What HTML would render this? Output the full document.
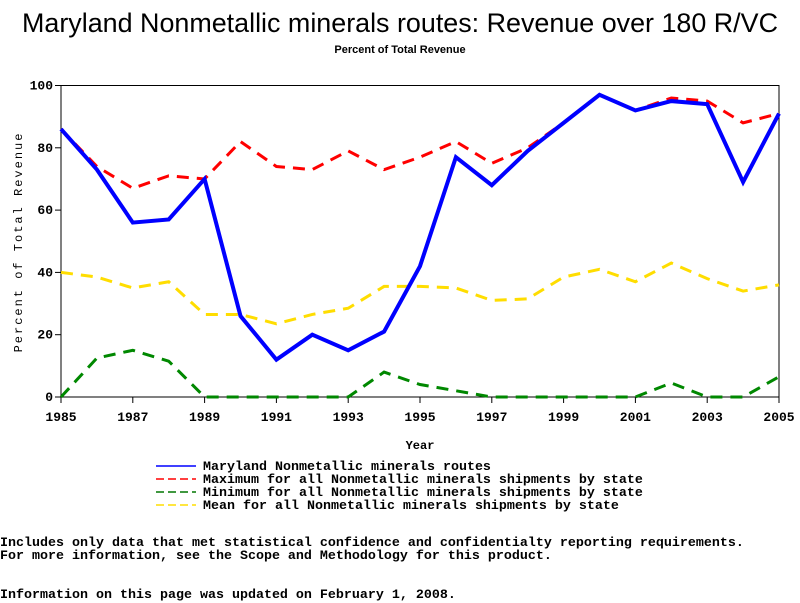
<!DOCTYPE html>
<html><head><meta charset="utf-8"><style>
body{margin:0;background:#fff;width:800px;height:600px;overflow:hidden;position:relative;font-family:"Liberation Sans",sans-serif}
.mono{font-family:"Liberation Mono",monospace;font-size:13.33px;position:absolute;white-space:pre;color:#000;font-weight:bold;line-height:13px}
</style></head><body>
<svg width="800" height="600" style="position:absolute;left:0;top:0">
<text x="22" y="32" font-size="27" textLength="756" lengthAdjust="spacingAndGlyphs" font-family="Liberation Sans, sans-serif">Maryland Nonmetallic minerals routes: Revenue over 180 R/VC</text>
<text x="400" y="53" text-anchor="middle" font-size="11" font-weight="bold" font-family="Liberation Sans, sans-serif">Percent of Total Revenue</text>
<rect x="61" y="85.5" width="718" height="311.5" fill="none" stroke="#000"/>
<g id="axes"></g>
<g id="series"></g>
<text x="420" y="449" text-anchor="middle" font-size="12" font-weight="bold" font-family="Liberation Mono, monospace">Year</text>
<text transform="translate(22,242) rotate(-90)" text-anchor="middle" font-size="12" letter-spacing="2" font-family="Liberation Mono, monospace">Percent of Total Revenue</text>
<line x1="156" y1="466" x2="196" y2="466" stroke="#00f" stroke-width="1.5"/>
<line x1="156" y1="479" x2="196" y2="479" stroke="#f00" stroke-width="1.5" stroke-dasharray="8,4"/>
<line x1="156" y1="492" x2="196" y2="492" stroke="#070" stroke-width="1.5" stroke-dasharray="8,4"/>
<line x1="156" y1="505" x2="196" y2="505" stroke="#fd0" stroke-width="1.5" stroke-dasharray="8,4"/>
</svg>
<div class="mono" style="left:203px;top:461px">Maryland Nonmetallic minerals routes</div>
<div class="mono" style="left:203px;top:474px">Maximum for all Nonmetallic minerals shipments by state</div>
<div class="mono" style="left:203px;top:487px">Minimum for all Nonmetallic minerals shipments by state</div>
<div class="mono" style="left:203px;top:500px">Mean for all Nonmetallic minerals shipments by state</div>
<div class="mono" style="left:0;top:537px">Includes only data that met statistical confidence and confidentialty reporting requirements.</div>
<div class="mono" style="left:0;top:550px">For more information, see the Scope and Methodology for this product.</div>
<div class="mono" style="left:0;top:589px">Information on this page was updated on February 1, 2008.</div>
<script>
const years=[1985,1986,1987,1988,1989,1990,1991,1992,1993,1994,1995,1996,1997,1998,1999,2000,2001,2002,2003,2004,2005];
const marylandVals=[86,73,56,57,70,26,12,20,15,21,42,77,68,79,88,97,92,95,94,69,91];
const maxVals=[86,74,67,71,70,82,74,73,79,73,77,82,75,80,88,97,92,96,95,88,91];
const minVals=[0,12.5,15,11.5,0,0,0,0,0,8,4,2,0,0,0,0,0,4.5,0,0,6.5];
const meanVals=[40,38.5,35,37,26.5,26.5,23.5,26.5,28.5,35.5,35.5,35,31,31.5,38.5,41,37,43,38,34,36];
const xTicks=[1985,1987,1989,1991,1993,1995,1997,1999,2001,2003,2005];
const yTicks=[0,20,40,60,80,100];
const NS="http://www.w3.org/2000/svg";
const X=v=>61+(v-1985)/20*718, Y=v=>397-v/100*311.5;
const ax=document.getElementById('axes'), se=document.getElementById('series');
function mk(tag,attrs,parent){const e=document.createElementNS(NS,tag);for(const k in attrs)e.setAttribute(k,attrs[k]);parent.appendChild(e);return e;}
xTicks.forEach(t=>{
 const l=mk('line',{x1:X(t),x2:X(t),y1:397,y2:403,stroke:'#000'},ax);
 
 
 const tx=mk('text',{x:X(t),y:421,'text-anchor':'middle','font-size':13,'font-weight':'bold','font-family':'Liberation Mono, monospace'},ax);
 tx.textContent=t;
 
 
});
yTicks.forEach(t=>{
 const l=mk('line',{x1:55,x2:61,y1:Y(t),y2:Y(t),stroke:'#000'},ax);
 
 
 const tx=mk('text',{x:53,y:Y(t)+4,'text-anchor':'end','font-size':13,'font-weight':'bold','font-family':'Liberation Mono, monospace'},ax);
 tx.textContent=t;
 
 
});
function line(vals,color,w,dash,name){
 const p=mk('polyline',{points:vals.map((v,i)=>X(years[i])+','+Y(v)).join(' '),fill:'none',stroke:color,'stroke-width':w,'stroke-dasharray':dash},se);
 
 
}
line(meanVals,'#fd0',3,'12,8','series-mean');
line(minVals,'#080',3,'12,8','series-min');
line(maxVals,'#f00',3,'12,8','series-max');
line(marylandVals,'#00f',4,'none','series-maryland');
</script>
</body></html>
